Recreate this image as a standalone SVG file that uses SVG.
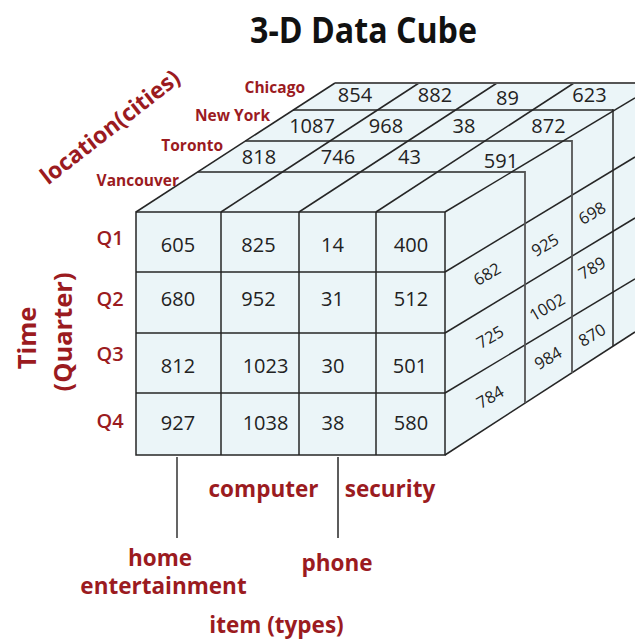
<svg xmlns="http://www.w3.org/2000/svg" width="635" height="639" viewBox="0 0 635 639">
<style>
.bg{fill:#ffffff}
.fill{fill:#ebf5f8;stroke:none}
.ln{stroke:#262626;stroke-width:1.5;fill:none}
.gl{stroke:#555;stroke-width:1.8;fill:none}
.num{font-family:"Open Sans","Noto Sans",sans-serif;font-size:20px;fill:#222;text-anchor:middle}
.rnum{font-family:"Open Sans","Noto Sans",sans-serif;font-size:16.5px;fill:#222;text-anchor:middle}
.lab{font-family:"Open Sans","Noto Sans",sans-serif;font-weight:bold;fill:#9b1b1f}
.city{font-size:15.5px;text-anchor:end}
.q{font-size:20px;font-weight:600;text-anchor:middle}
.ax{font-size:22.5px;text-anchor:middle}
</style>
<rect class="bg" x="0" y="0" width="635" height="639"/>

<g id="title">
<text x="363.5" y="43" font-family="'Open Sans','Noto Sans',sans-serif" font-weight="bold" font-size="36" fill="#111" text-anchor="middle" textLength="227" lengthAdjust="spacingAndGlyphs">3-D Data Cube</text>
</g>

<g id="cube">
<polygon class="fill" points="136,455 136,212 335,83 635,83 635,332 445,455"/>
</g>

<g id="connectors">
<rect class="ln" x="136" y="212" width="309" height="243"/>
<line class="ln" x1="221" y1="212" x2="221" y2="455"/>
<line class="ln" x1="299" y1="212" x2="299" y2="455"/>
<line class="ln" x1="376" y1="212" x2="376" y2="455"/>
<line class="ln" x1="136" y1="272" x2="445" y2="272"/>
<line class="ln" x1="136" y1="333" x2="445" y2="333"/>
<line class="ln" x1="136" y1="393" x2="445" y2="393"/>
<line class="ln" x1="136" y1="212" x2="335" y2="83"/>
<line class="ln" x1="221" y1="212" x2="419" y2="83"/>
<line class="ln" x1="299" y1="212" x2="497" y2="83"/>
<line class="ln" x1="376" y1="212" x2="574" y2="83"/>
<line class="ln" x1="445" y1="212" x2="635" y2="98"/>
<line class="gl" x1="335" y1="83" x2="635" y2="83"/>
<line class="ln" x1="293" y1="110" x2="613" y2="110"/>
<line class="ln" x1="245.5" y1="141" x2="572" y2="141"/>
<line class="ln" x1="197.7" y1="172" x2="525" y2="172"/>
<line class="ln" x1="445" y1="272" x2="635" y2="157"/>
<line class="ln" x1="445" y1="333" x2="635" y2="218"/>
<line class="ln" x1="445" y1="393" x2="635" y2="279"/>
<line class="ln" x1="445" y1="455" x2="635" y2="332"/>
<line class="gl" x1="525" y1="171" x2="525" y2="403"/>
<line class="gl" x1="572" y1="140" x2="572" y2="373"/>
<line class="ln" x1="613" y1="109" x2="613" y2="346"/>
<line class="gl" x1="177" y1="457" x2="177" y2="538"/>
<line class="ln" x1="338" y1="457" x2="338" y2="538"/>
</g>

<g id="front-values">
<text class="num" x="178" y="251.5">605</text>
<text class="num" x="258.5" y="251.5">825</text>
<text class="num" x="332.5" y="251.5">14</text>
<text class="num" x="411" y="251.5">400</text>
<text class="num" x="178" y="306">680</text>
<text class="num" x="258.5" y="306">952</text>
<text class="num" x="332.5" y="306">31</text>
<text class="num" x="411" y="306">512</text>
<text class="num" x="178" y="373">812</text>
<text class="num" x="265.5" y="373">1023</text>
<text class="num" x="333" y="373">30</text>
<text class="num" x="410" y="373">501</text>
<text class="num" x="178" y="430">927</text>
<text class="num" x="265.5" y="430">1038</text>
<text class="num" x="333" y="430">38</text>
<text class="num" x="411" y="430">580</text>
</g>

<g id="top-values">
<text class="num" x="355" y="102">854</text>
<text class="num" x="435" y="102">882</text>
<text class="num" x="507.5" y="105">89</text>
<text class="num" x="589.5" y="101.5">623</text>
<text class="num" x="312" y="133">1087</text>
<text class="num" x="386" y="133">968</text>
<text class="num" x="464" y="133">38</text>
<text class="num" x="548.5" y="132.5">872</text>
<text class="num" x="259" y="164">818</text>
<text class="num" x="338" y="164">746</text>
<text class="num" x="409.5" y="164">43</text>
<text class="num" x="501" y="168">591</text>
</g>

<g id="side-values">
<text class="rnum" transform="translate(487,274) rotate(-30)" x="0" y="6">682</text>
<text class="rnum" transform="translate(490,337) rotate(-30)" x="0" y="6">725</text>
<text class="rnum" transform="translate(490,397) rotate(-30)" x="0" y="6">784</text>
<text class="rnum" transform="translate(545,245) rotate(-30)" x="0" y="6">925</text>
<text class="rnum" transform="translate(547,307) rotate(-30)" x="0" y="6">1002</text>
<text class="rnum" transform="translate(548,358) rotate(-30)" x="0" y="6">984</text>
<text class="rnum" transform="translate(592,213) rotate(-30)" x="0" y="6">698</text>
<text class="rnum" transform="translate(592,268) rotate(-30)" x="0" y="6">789</text>
<text class="rnum" transform="translate(592,335) rotate(-30)" x="0" y="6">870</text>
</g>

<g id="location-labels">
<text class="lab city" x="305" y="92.5">Chicago</text>
<text class="lab city" x="270" y="121">New York</text>
<text class="lab city" x="223" y="151">Toronto</text>
<text class="lab city" x="179" y="186">Vancouver</text>
<text class="lab" font-size="23" text-anchor="middle" transform="translate(110,127) rotate(-38)" x="0" y="8">location(cities)</text>
</g>

<g id="time-labels">
<text class="lab q" x="110" y="245">Q1</text>
<text class="lab q" x="110" y="306">Q2</text>
<text class="lab q" x="110" y="361">Q3</text>
<text class="lab q" x="110" y="428">Q4</text>
<text class="lab" font-size="25.5" text-anchor="middle" transform="translate(36,338) rotate(-90)" x="0" y="0">Time</text>
<text class="lab" font-size="25.5" text-anchor="middle" transform="translate(72,332) rotate(-90)" x="0" y="0">(Quarter)</text>
</g>

<g id="item-labels">
<text class="lab ax" x="263.5" y="497">computer</text>
<text class="lab ax" x="390" y="497">security</text>
<text class="lab ax" x="160" y="566">home</text>
<text class="lab ax" x="163.5" y="594">entertainment</text>
<text class="lab ax" x="337" y="571">phone</text>
<text class="lab ax" x="276.5" y="633">item (types)</text>
</g>
</svg>
